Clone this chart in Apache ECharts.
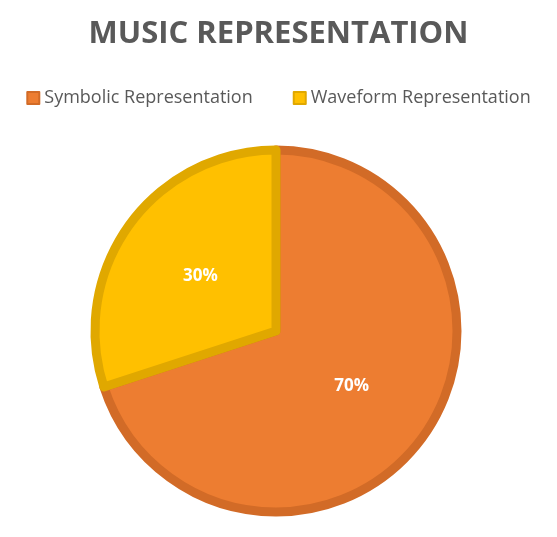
<!DOCTYPE html>
<html>
<head>
<meta charset="utf-8">
<title>Music Representation</title>
<script src="https://cdn.jsdelivr.net/npm/echarts@6/dist/echarts.min.js"></script>
<style>
    html, body { margin: 0; padding: 0; background: #fff; }
    #chart { width: 557px; height: 537px; }
</style>
</head>
<body>
<div id="chart"></div>
<script>
    var categories = ['Symbolic Representation', 'Waveform Representation'];
    var values = [70, 30];
    var colors = ['#ED7D31', '#FFC000'];
    var borders = ['#D26B27', '#E0A800'];

    var chart = echarts.init(document.getElementById('chart'));
    var data = categories.map(function (name, i) {
        return {
            name: name,
            value: values[i],
            itemStyle: { color: colors[i], borderColor: borders[i], borderWidth: 9 }
        };
    });
    chart.setOption({
        animation: false,
        title: {
            text: 'MUSIC REPRESENTATION',
            left: 'center',
            top: 14,
            textStyle: { fontFamily: 'Open Sans', fontWeight: 'bold', fontSize: 31, color: '#595959' }
        },
        legend: {
            top: 84,
            left: 'center',
            itemWidth: 12,
            itemHeight: 12,
            itemGap: 40,
            icon: 'rect',
            textStyle: { fontFamily: 'Open Sans', fontSize: 18, color: '#595959' },
            data: categories
        },
        series: [{
            type: 'pie',
            center: [276, 331],
            radius: 181,
            startAngle: 90,
            data: data,
            label: {
                position: 'inner',
                formatter: '{d}%',
                fontFamily: 'Open Sans',
                fontWeight: 'bold',
                fontSize: 17,
                color: '#fff'
            },
            labelLine: { show: false }
        }]
    });
</script>
</body>
</html>
